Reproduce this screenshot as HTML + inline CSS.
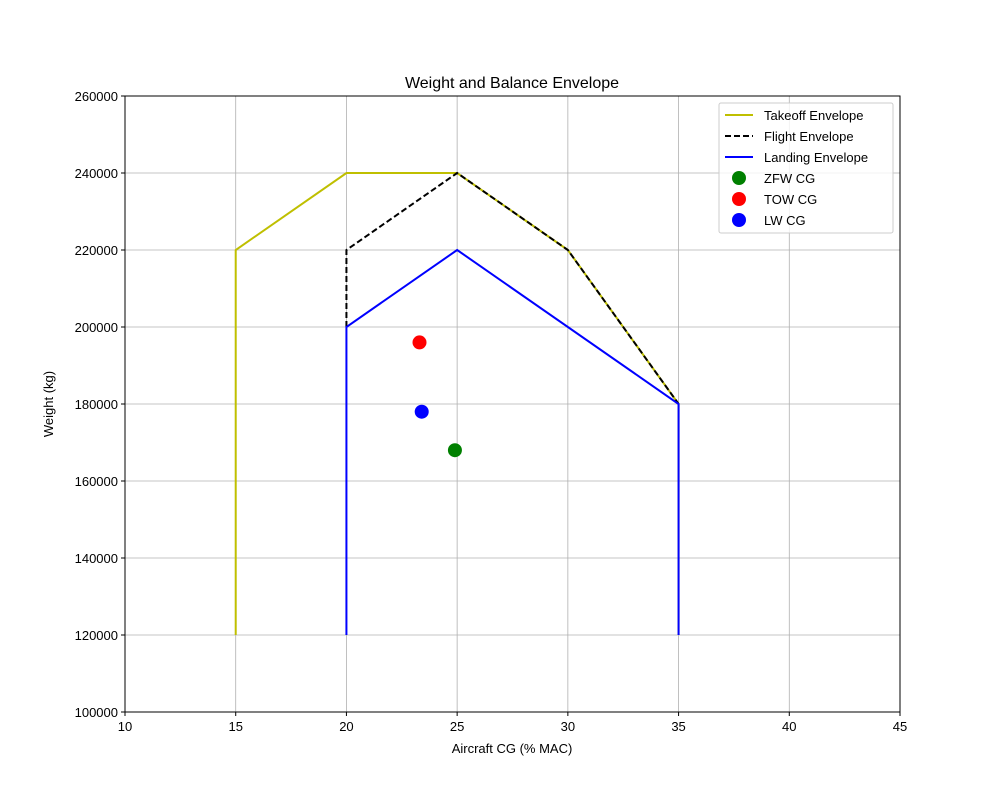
<!DOCTYPE html>
<html><head><meta charset="utf-8"><style>body{margin:0;background:#fff}svg{font-family:"Liberation Sans","DejaVu Sans",sans-serif}</style></head>
<body>
<svg id="chart" width="1000" height="800" xmlns="http://www.w3.org/2000/svg">
<rect width="1000" height="800" fill="#fff"/>
<g id="grid"></g>
<g id="series"></g>
<rect x="125" y="96" width="775" height="616" fill="none" stroke="#000" stroke-width="1"/>
<g id="ticks" font-size="13"></g>
<text x="512" y="88" text-anchor="middle" font-size="16">Weight and Balance Envelope</text>
<text x="512" y="753" text-anchor="middle" font-size="13">Aircraft CG (% MAC)</text>
<text x="53" y="404" text-anchor="middle" font-size="13" transform="rotate(-90 53 404)">Weight (kg)</text>
<g id="legend" font-size="13">
<rect x="719" y="103" width="174" height="130" fill="#fff" fill-opacity="0.8" stroke="#ccc" rx="2"/>
</g>
</svg>
<script>
const xTicks=[10,15,20,25,30,35,40,45];
const yTicks=[100000,120000,140000,160000,180000,200000,220000,240000,260000];
const takeoffX=[15,15,20,25,30,35,35];
const takeoffY=[120000,220000,240000,240000,220000,180000,120000];
const flightX=[20,20,25,30,35];
const flightY=[200000,220000,240000,220000,180000];
const landingX=[20,20,25,35,35];
const landingY=[120000,200000,220000,180000,120000];
const pointNames=["ZFW CG","TOW CG","LW CG"];
const pointX=[24.9,23.3,23.4];
const pointY=[168000,196000,178000];
const pointColors=["green","red","blue"];
const NS="http://www.w3.org/2000/svg";
const sx=v=>125+(v-10)/35*775, sy=v=>712-(v-100000)/160000*616;
function mk(t,a,p){const e=document.createElementNS(NS,t);for(const k in a)e.setAttribute(k,a[k]);p.appendChild(e);return e;}
const grid=document.getElementById('grid'),ticks=document.getElementById('ticks'),ser=document.getElementById('series'),leg=document.getElementById('legend');
xTicks.forEach(v=>{const x=sx(v);
const g=mk('line',{x1:x,x2:x,y1:96,y2:712,stroke:'#b0b0b0','stroke-width':0.8},grid);


mk('line',{x1:x,x2:x,y1:712,y2:716,stroke:'#000'},ticks);
const t=mk('text',{x:x,y:731,'text-anchor':'middle'},ticks);t.textContent=v;

});
yTicks.forEach(v=>{const y=sy(v);
const g=mk('line',{x1:125,x2:900,y1:y,y2:y,stroke:'#b0b0b0','stroke-width':0.8},grid);


mk('line',{x1:121,x2:125,y1:y,y2:y,stroke:'#000'},ticks);
const t=mk('text',{x:118,y:y+5,'text-anchor':'end'},ticks);t.textContent=v;

});
function line(xs,ys,col,dash,name){const p=mk('polyline',{points:xs.map((x,i)=>sx(x)+','+sy(ys[i])).join(' '),fill:'none',stroke:col,'stroke-width':2,'stroke-dasharray':dash||'none'},ser);

}
line(takeoffX,takeoffY,'#bfbf00',null,'takeoff-envelope');
line(flightX,flightY,'#000','6,3','flight-envelope');
line(landingX,landingY,'#0000ff',null,'landing-envelope');
pointX.forEach((x,i)=>{const c=mk('circle',{cx:sx(x),cy:sy(pointY[i]),r:7,fill:pointColors[i]},ser);

});
const entries=[["Takeoff Envelope","line","#bfbf00",null],["Flight Envelope","line","#000","6,3"],["Landing Envelope","line","#0000ff",null]].concat(pointNames.map((n,i)=>[n,"dot",pointColors[i]]));
entries.forEach((e,i)=>{const y=115+i*21;
if(e[1]=="line")mk('line',{x1:725,x2:753,y1:y,y2:y,stroke:e[2],'stroke-width':2,'stroke-dasharray':e[3]||'none'},leg);
else mk('circle',{cx:739,cy:y,r:7,fill:e[2]},leg);
const t=mk('text',{x:764,y:y+5},leg);t.textContent=e[0];

});
</script>
</body></html>
